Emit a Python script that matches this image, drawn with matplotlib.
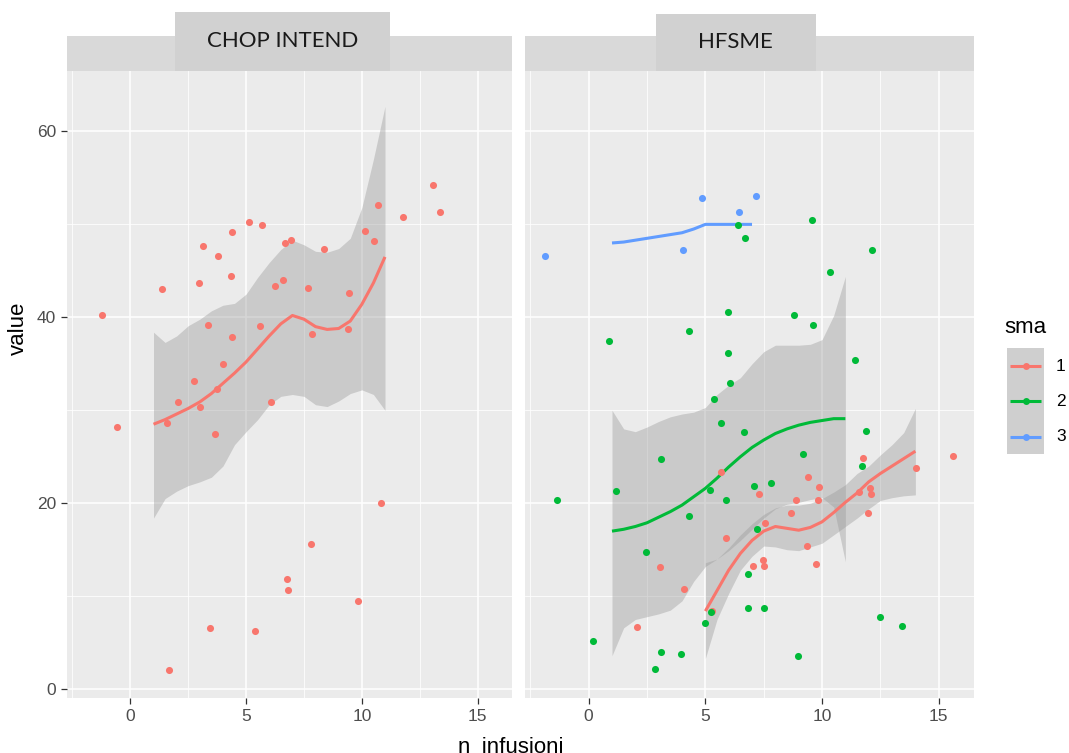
import numpy as np
import matplotlib
matplotlib.use('Agg')
import matplotlib.pyplot as plt
from matplotlib.patches import Rectangle
from matplotlib.ticker import MultipleLocator

# jittered points, CHOP INTEND (only sma 1)
chop_x = [-1.23, 1.37, 2.96, 3.12, 3.77, 4.38, 4.35, 5.13, 5.69, 6.69, 6.96, 6.25, 6.58,
          7.68, 8.35, 9.44, 10.13, 10.51, 10.70, 11.76, 13.09, 13.38, 3.34, 4.41, 5.61,
          7.85, 9.40, 4.02, 2.73, 3.75, 2.06, 3.02, 6.06, -0.59, 1.58, 3.64, 10.83, 7.79,
          6.77, 6.80, 9.82, 3.46, 5.37, 1.68]
chop_y = [40.3, 43.1, 43.7, 47.7, 46.6, 49.2, 44.4, 50.3, 49.9, 48.0, 48.3, 43.4, 44.0,
          43.2, 47.4, 42.6, 49.3, 48.2, 52.1, 50.8, 54.2, 51.3, 39.2, 37.9, 39.1,
          38.2, 38.7, 35.0, 33.1, 32.3, 30.9, 30.4, 30.9, 28.2, 28.6, 27.4, 20.0, 15.6,
          11.9, 10.7, 9.5, 6.6, 6.3, 2.1]

# jittered points, HFSME
hf1_x = [15.60, 11.74, 14.03, 5.68, 9.41, 9.87, 7.30, 8.90, 9.84, 11.59, 12.05, 12.10,
         11.96, 8.68, 7.56, 5.89, 9.34, 7.47, 7.52, 7.06, 9.73, 3.05, 4.07, 5.27, 2.09]
hf1_y = [25.1, 24.9, 23.8, 23.4, 22.8, 21.8, 21.0, 20.4, 20.4, 21.2, 21.6, 21.0,
         19.0, 18.9, 17.9, 16.3, 15.4, 13.9, 13.3, 13.2, 13.5, 13.1, 10.8, 8.4, 6.7]
hf2_x = [6.42, 6.71, 9.56, 12.16, 10.33, 5.99, 8.81, 9.63, 4.31, 0.89, 5.97, 11.42, 6.06,
         5.36, 5.65, 6.67, 11.88, 3.09, 9.17, 11.70, 1.15, -1.35, 5.19, 7.10, 7.80, 5.89,
         4.28, 7.23, 2.44, 6.84, 6.81, 7.53, 5.23, 4.97, 12.47, 13.42, 0.20, 3.12, 3.94,
         8.95, 2.86]
hf2_y = [49.9, 48.5, 50.5, 47.2, 44.9, 40.6, 40.2, 39.2, 38.5, 37.5, 36.2, 35.4, 32.9,
         31.2, 28.6, 27.7, 27.8, 24.8, 25.3, 24.0, 21.3, 20.3, 21.4, 21.9, 22.2, 20.4,
         18.6, 17.2, 14.8, 12.4, 8.7, 8.7, 8.3, 7.1, 7.8, 6.8, 5.2, 4.0, 3.8,
         3.6, 2.2]
hf3_x = [-1.88, 4.04, 4.84, 6.45, 7.17]
hf3_y = [46.6, 47.2, 52.8, 51.3, 53.0]

# loess fits (value and 95% band) on the un-jittered n_infusioni
grid_1_11 = np.arange(1, 11.5, 0.5)
grid_1_7 = np.arange(1, 7.5, 0.5)
grid_5_14 = np.arange(5, 14.5, 0.5)

chop_fit = [28.5, 29.0, 29.6, 30.2, 30.9, 31.8, 32.9, 34.0, 35.2, 36.6, 38.0, 39.3, 40.2,
            39.8, 39.0, 38.7, 38.8, 39.6, 41.4, 43.7, 46.5]
chop_hi = [38.4, 37.3, 38.0, 39.1, 39.8, 40.7, 41.3, 41.5, 42.5, 44.3, 45.9, 47.3, 48.3,
           47.8, 47.1, 47.0, 47.4, 48.5, 51.8, 57.0, 62.7]
chop_lo = [18.4, 20.5, 21.3, 21.9, 22.3, 22.8, 24.0, 26.3, 27.7, 29.0, 30.6, 31.5, 31.7,
           31.5, 30.6, 30.4, 31.0, 31.8, 32.2, 31.7, 30.0]

hf1_fit = [8.4, 10.6, 12.8, 14.6, 16.0, 17.0, 17.5, 17.3, 17.1, 17.4, 18.0, 19.0, 20.1,
           21.1, 22.3, 23.2, 24.0, 24.8, 25.6]
hf1_hi = [13.6, 14.0, 15.2, 16.6, 17.8, 18.8, 19.5, 19.8, 19.8, 20.0, 20.5, 21.2, 22.0,
          23.2, 24.0, 25.2, 26.3, 27.6, 30.2]
hf1_lo = [3.3, 7.5, 10.3, 12.8, 14.3, 15.4, 15.3, 15.0, 14.9, 15.3, 15.7, 16.6, 17.5,
          18.4, 19.4, 20.3, 20.6, 20.8, 20.9]

hf2_fit = [17.0, 17.2, 17.5, 17.9, 18.5, 19.1, 19.8, 20.7, 21.6, 22.7, 23.9, 25.0, 26.0,
           26.8, 27.5, 28.0, 28.4, 28.7, 28.9, 29.1, 29.1]
hf2_hi = [30.0, 28.0, 27.7, 28.2, 28.8, 29.3, 29.6, 29.8, 30.3, 31.7, 32.7, 33.5, 35.0,
          36.3, 37.0, 37.0, 37.0, 37.1, 37.6, 40.2, 44.4]
hf2_lo = [3.6, 6.6, 7.5, 7.8, 8.1, 8.5, 9.5, 11.6, 13.2, 14.0, 14.9, 16.0, 17.2,
          18.4, 19.4, 19.9, 20.1, 20.4, 20.6, 19.6, 13.7]

hf3_fit = [48.0, 48.1, 48.3, 48.5, 48.7, 48.9, 49.1, 49.5, 50.0, 50.0, 50.0, 50.0, 50.0]

sma_levels = ['1', '2', '3']
sma_colors = {'1': '#F8766D', '2': '#00BA38', '3': '#619CFF'}
panels = ['CHOP INTEND', 'HFSME']
x_ticks = [0, 5, 10, 15]
y_ticks = [0, 20, 40, 60]

W, H = 1069, 753
BG = '#EBEBEB'
RIB = '#999999'


def box(x0, y0, x1, y1):
    return [x0 / W, 1 - y1 / H, (x1 - x0) / W, (y1 - y0) / H]


plt.rcParams['font.family'] = ['Liberation Sans', 'DejaVu Sans']

fig = plt.figure(figsize=(W / 100, H / 100), dpi=100)
ax1 = fig.add_axes(box(66.7, 71, 512.3, 698))
ax2 = fig.add_axes(box(524.5, 71, 973.7, 698))

for ax in (ax1, ax2):
    ax.set_facecolor(BG)
    ax.set_xlim(-2.75, 16.5)
    ax.set_ylim(-0.95, 66.5)
    ax.set_xticks(x_ticks)
    ax.set_yticks(y_ticks)
    ax.xaxis.set_minor_locator(MultipleLocator(2.5))
    ax.yaxis.set_minor_locator(MultipleLocator(10))
    ax.grid(which='major', color='white', lw=1.1)
    ax.grid(which='minor', color='white', lw=0.55)
    ax.set_axisbelow(True)
    for s in ax.spines.values():
        s.set_visible(False)
    ax.tick_params(which='major', direction='out', length=4.2, width=0.9,
                   color='#333333', labelcolor='#4D4D4D', labelsize=12.5, pad=3.5)
    ax.tick_params(which='minor', length=0)

ax2.tick_params(axis='y', which='major', length=0, labelleft=False)

# CHOP INTEND
ax1.fill_between(grid_1_11, chop_lo, chop_hi, color=RIB, alpha=0.4, lw=0)
ax1.plot(grid_1_11, chop_fit, color=sma_colors['1'], lw=2.2, solid_capstyle='butt')
ax1.scatter(chop_x, chop_y, s=26, color=sma_colors['1'], lw=0, zorder=3)

# HFSME
ax2.fill_between(grid_1_11, hf2_lo, hf2_hi, color=RIB, alpha=0.4, lw=0)
ax2.fill_between(grid_5_14, hf1_lo, hf1_hi, color=RIB, alpha=0.4, lw=0)
ax2.plot(grid_5_14, hf1_fit, color=sma_colors['1'], lw=2.2, solid_capstyle='butt')
ax2.plot(grid_1_11, hf2_fit, color=sma_colors['2'], lw=2.2, solid_capstyle='butt')
ax2.plot(grid_1_7, hf3_fit, color=sma_colors['3'], lw=2.2, solid_capstyle='butt')
ax2.scatter(hf1_x, hf1_y, s=26, color=sma_colors['1'], lw=0, zorder=3)
ax2.scatter(hf2_x, hf2_y, s=26, color=sma_colors['2'], lw=0, zorder=3)
ax2.scatter(hf3_x, hf3_y, s=26, color=sma_colors['3'], lw=0, zorder=3)

# overlay in pixel coords for strips and legend
ov = fig.add_axes([0, 0, 1, 1], zorder=-1)
ov.set_xlim(0, W)
ov.set_ylim(H, 0)
ov.axis('off')

strips = [(66.7, 512.3, 175, 390, 12), (524.5, 973.7, 655.8, 815.7, 14)]
for name, (bx0, bx1, cx0, cx1, cy0) in zip(panels, strips):
    ov.add_patch(Rectangle((bx0, 35.7), bx1 - bx0, 71 - 35.7, color='#D9D9D9', lw=0))
    ov.add_patch(Rectangle((cx0, cy0), cx1 - cx0, 71 - cy0, color='#D1D1D1', lw=0))
    ov.text((cx0 + cx1) / 2, (cy0 + 71) / 2 - 1, name, ha='center', va='center',
            fontsize=16, color='#1A1A1A', family=['Lato', 'DejaVu Sans'])

# legend
ov.text(1004, 327, 'sma', fontsize=16, ha='left', va='center', color='black')
ov.add_patch(Rectangle((1006.7, 348.3), 1044 - 1006.7, 454.3 - 348.3,
                       color='#CFCFCF', lw=0))
for lvl, yk in zip(sma_levels, [366, 401, 436.7]):
    ov.plot([1010, 1041], [yk, yk], color=sma_colors[lvl], lw=2.2,
            solid_capstyle='butt')
    ov.plot([1025.5], [yk], 'o', color=sma_colors[lvl], ms=5, mew=0)
    ov.text(1056, yk, lvl, fontsize=12.5, ha='left', va='center', color='black')

fig.text(18 / W, 1 - 328 / H, 'value', rotation=90, ha='center', va='center',
         fontsize=16)
# the underscore of the axis title falls just below the bottom edge
fig.text(511 / W, 0.5 / H, 'n_infusioni', ha='center', va='baseline', fontsize=16)

fig.savefig('out.png', dpi=100, facecolor='white')
